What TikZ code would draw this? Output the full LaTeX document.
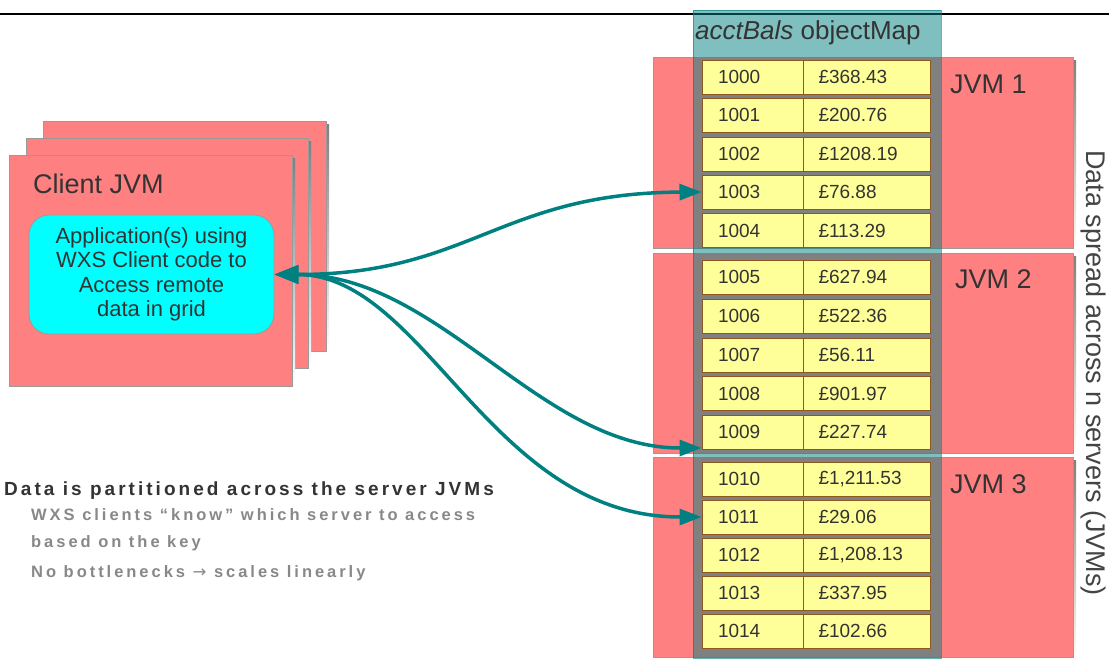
\documentclass[tikz,border=0pt]{standalone}
\usepackage{fontspec}
\setmainfont{Liberation Sans}
\newfontfamily\headfamily[LetterSpace=16]{Liberation Sans Bold}
\newfontfamily\subfamily[LetterSpace=18]{Liberation Sans Bold}
\newfontfamily\arrowfamily{DejaVu Sans}
\usetikzlibrary{arrows.meta}

\definecolor{jvmred}{HTML}{FF8080}
\definecolor{boxedge}{HTML}{9A9A9A}
\definecolor{mapteal}{HTML}{008080}
\definecolor{appcyan}{HTML}{00FFFF}
\definecolor{cellfill}{HTML}{FFFF99}
\definecolor{celledge}{HTML}{8C5A1E}
\definecolor{ink}{HTML}{333333}
\definecolor{sideink}{HTML}{444444}
\definecolor{noteink}{HTML}{888888}
\definecolor{shade}{HTML}{EFEFEF}
\definecolor{gridgrey}{HTML}{808080}

\newcommand\cellfont{\fontsize{19}{22}\selectfont}
\newcommand\jvmfont{\fontsize{27}{30}\selectfont}
\newcommand\appfont{\fontsize{22}{24.5}\selectfont}
\newcommand\headfont{\headfamily\fontsize{19}{21}\selectfont}
\newcommand\subfont{\subfamily\fontsize{16.5}{18}\selectfont}

\tikzset{
  jvmbox/.style={fill=jvmred, draw=boxedge, line width=0.8pt},
  keycell/.style={draw=celledge, fill=cellfill, line width=1pt,
    minimum height=34pt, inner ysep=0pt, inner xsep=16pt,
    text width=69pt, align=left, font=\cellfont, text=ink},
  valcell/.style={keycell, inner xsep=15pt, text width=97pt},
  link/.style={draw=mapteal, line width=3.5pt},
  label/.style={font=\jvmfont, text=ink, inner sep=0pt},
  bothtips/.style={{Triangle[length=24pt,width=18pt]}-{Triangle[length=22pt,width=16pt]}},
}

\begin{document}
\begin{tikzpicture}[x=1pt,y=-1pt]
\useasboundingbox (0,0) rectangle (1109,659);

% rule across the top
\draw[line width=2pt] (0,14) -- (1109,14);

% stacked client JVMs with soft shadows
\foreach \xa/\ya/\xb/\yb in {43/121/326/351, 26/138/308/368, 9/155/292/386}{
  \fill[shade] (\xa+3,\ya+3) rectangle (\xb+3,\yb+3);
  \filldraw[jvmbox] (\xa,\ya) rectangle (\xb,\yb);
}
\node[label, anchor=base west] (clientlbl) at (33,193) {Client JVM};
\node[draw=boxedge, fill=appcyan, rounded corners=20pt, line width=0.8pt,
      minimum width=245pt, minimum height=119pt, align=center,
      font=\appfont, text=ink, inner sep=0pt] (app) at (151.5,274.5)
  {Application(s) using\\WXS Client code to\\Access remote\\data in grid};

% server JVMs
\foreach \ya/\yb in {57/248, 253/453, 457/657}{
  \fill[shade] (656,\ya+3) rectangle (1076,\yb+3);
  \filldraw[jvmbox] (653,\ya) rectangle (1073,\yb);
}
\node[label, anchor=base west] (jvm1) at (950,93) {JVM 1};
\node[label, anchor=base west] (jvm2) at (955,288) {JVM 2};
\node[label, anchor=base west] (jvm3) at (950,493) {JVM 3};

% the objectMap column
\filldraw[fill=mapteal, draw=mapteal, fill opacity=0.5, draw opacity=0.6, line width=0.8pt]
  (693,10) rectangle (941,658);
\node[font=\fontsize{26}{28}\selectfont, text=ink, anchor=base west, inner sep=0pt]
  (maptitle) at (695,39) {\textit{acctBals} objectMap};
\foreach \ya/\yb in {57/248, 253/452, 457/653}{
  \fill[gridgrey] (694.5,\ya) rectangle (939.5,\yb);
}

% key/value entries
\foreach \k/\v/\y in {
  1000/{£368.43}/77, 1001/{£200.76}/115, 1002/{£1208.19}/154,
  1003/{£76.88}/192, 1004/{£113.29}/230.5,
  1005/{£627.94}/277, 1006/{£522.36}/316, 1007/{£56.11}/355,
  1008/{£901.97}/393.5, 1009/{£227.74}/432,
  1010/{£1,211.53}/479, 1011/{£29.06}/517, 1012/{£1,208.13}/555,
  1013/{£337.95}/593, 1014/{£102.66}/631}{
  \node[keycell] (k\k) at (752.5,\y) {\k};
  \node[valcell] (v\k) at (867,\y) {\v};
}

% side caption
\node[rotate=-90, font=\jvmfont, text=sideink] (spread) at (1093,373)
  {Data spread across n servers (JVMs)};

% requests from the client into the grid
\draw[link, bothtips]
  (app.east) .. controls (470,274.5) and (500,193) .. (k1003.west);
\draw[link, bothtips]
  (app.east) .. controls (440,274.5) and (540,448) .. ([yshift=-16pt]k1009.west);
\draw[link, bothtips]
  (app.east) .. controls (425,274.5) and (490,517) .. (k1011.west);

% notes
\node[font=\headfont, text=ink, anchor=base west, inner sep=0pt] (note1) at (4,495)
  {Data is partitioned across the server JVMs};
\node[font=\subfont, text=noteink, anchor=base west, inner sep=0pt] (note2) at (31,520)
  {WXS clients “know” which server to access};
\node[font=\subfont, text=noteink, anchor=base west, inner sep=0pt] (note3) at (31,547)
  {based on the key};
\node[font=\subfont, text=noteink, anchor=base west, inner sep=0pt] (note4) at (31,577)
  {No bottlenecks {\arrowfamily →} scales linearly};
\end{tikzpicture}
\end{document}
